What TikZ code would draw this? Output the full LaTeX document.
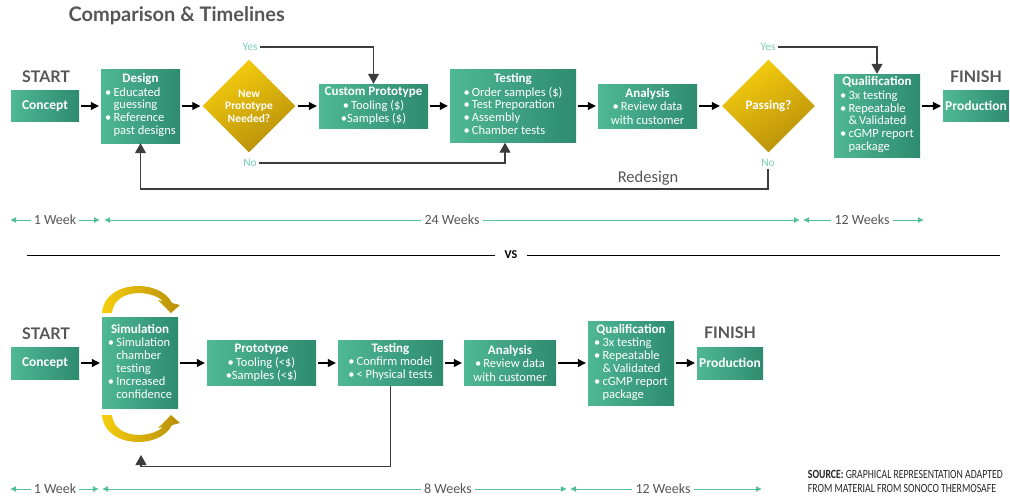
\documentclass[tikz,border=0pt]{standalone}
\usepackage{fontspec}
\setmainfont{Carlito}
\newfontfamily\headfont{Lato}
\usetikzlibrary{arrows.meta,positioning,shapes.geometric,calc}
\definecolor{tealL}{HTML}{4FB894}
\definecolor{tealD}{HTML}{2E8B6F}
\definecolor{goldL}{HTML}{F6CE0E}
\definecolor{goldD}{HTML}{B88F0A}
\definecolor{inkGray}{HTML}{565656}
\definecolor{lineGray}{HTML}{3C3C3C}
\definecolor{ansTeal}{HTML}{7CCDB6}
\definecolor{spanTeal}{HTML}{55BF9B}
\newcommand{\bul}{\textbullet\,}
\newcommand{\hang}{\phantom{\textbullet\,}}
\newcommand{\boxhead}[1]{{\fontsize{13}{13}\selectfont\bfseries #1}}
\newcommand{\bulrows}[1]{{\renewcommand{\arraystretch}{0.95}\begin{tabular}[t]{@{}l@{}}#1\end{tabular}}}

\begin{document}
\begin{tikzpicture}[x=1pt,y=-1pt,
  stage/.style={left color=tealL, right color=tealD, text=white, align=center,
    inner sep=2pt, font=\fontsize{12.5}{13.5}\selectfont},
  tag/.style={stage, font=\bfseries\fontsize{13.5}{14}\selectfont},
  decide/.style={diamond, aspect=1, inner sep=0pt, top color=goldL, bottom color=goldD,
    shading angle=30, text=white, align=center, font=\bfseries\fontsize{11.5}{12.5}\selectfont},
  flow/.style={-{Triangle[length=8pt,width=8pt]}, line width=1.1pt, black,
    shorten <=2pt, shorten >=2pt},
  loopback/.style={-{Triangle[length=10pt,width=11pt]}, line width=1.1pt, lineGray},
  answer/.style={text=ansTeal, font=\fontsize{11.5}{12}\selectfont, inner sep=2pt},
  endpoint/.style={text=inkGray, font=\headfont\bfseries\fontsize{16}{17}\selectfont},
  weeks/.style={text=inkGray, font=\fontsize{14}{15}\selectfont, inner sep=3pt},
  spanline/.style={-{Latex[length=6pt,width=6pt]}, spanTeal, line width=0.9pt},
  swirl/.pic={
    \shade[left color=goldL, right color=goldD]
      (-38,-50) .. controls (-36,-83) and (20,-85) .. (32,-60) -- (40,-58)
      -- (31,-50) -- (18,-63) -- (23,-62)
      .. controls (10,-74) and (-26,-74) .. (-28,-50) -- cycle;
  }]
\useasboundingbox (0,0) rectangle (1010,496);

\node[anchor=west, text=inkGray, font=\headfont\bfseries\fontsize{20}{22}\selectfont] (title) at (65,16) {Comparison \& Timelines};

% upper flow
\node[endpoint] (start1) at (46,77) {START};
\node[tag, minimum width=68pt, minimum height=31pt] (concept1) at (45,106) {Concept};
\node[stage, minimum width=79pt, minimum height=74pt] (design) at (140.5,106)
  {\boxhead{Design}\\\bulrows{\bul Educated\\\hang guessing\\\bul Reference\\\hang past designs}};
\node[decide, minimum width=93pt, minimum height=93pt] (newproto) at (249,106) {New\\Prototype\\Needed?};
\node[stage, minimum width=109pt, minimum height=44pt] (custom) at (373.5,106)
  {\boxhead{Custom Prototype}\\\bul Tooling (\$)\\\textbullet Samples (\$)};
\node[stage, minimum width=126pt, minimum height=73pt] (testing1) at (513,106)
  {\boxhead{Testing}\\\bulrows{\bul Order samples (\$)\\\bul Test Preporation\\\bul Assembly\\\bul Chamber tests}};
\node[stage, minimum width=99pt, minimum height=44pt] (analysis1) at (647.5,106)
  {\boxhead{Analysis}\\\bul Review data\\with customer};
\node[decide, minimum width=93pt, minimum height=93pt, font=\bfseries\fontsize{13}{14}\selectfont] (passing) at (768.5,106) {Passing?};
\node[stage, minimum width=86pt, minimum height=83pt] (qual1) at (877,115.5)
  {\boxhead{Qualification}\\\bulrows{\bul 3x testing\\\bul Repeatable\\\hang\&\,Validated\\\bul cGMP report\\\hang package}};
\node[tag, minimum width=64pt, minimum height=31pt] (prod1) at (976,106) {Production};
\node[endpoint] (fin1) at (976,77) {FINISH};

\draw[flow] (concept1) -- (design);
\draw[flow] (design) -- (newproto);
\draw[flow] (newproto) -- (custom);
\draw[flow] (custom) -- (testing1);
\draw[flow] (testing1) -- (analysis1);
\draw[flow] (analysis1) -- (passing);
\draw[flow] (qual1.east |- prod1) -- (prod1);

\node[answer] (yes1) at (250,47) {Yes};
\node[answer] (no1) at (250,163) {No};
\node[answer] (yes2) at (768,47) {Yes};
\node[answer] (no2) at (768,163) {No};
\draw[loopback] (yes1.east) -| (custom.north);
\draw[loopback] (no1.east) -| ($(testing1.south)+(-8,0)$);
\draw[loopback] (yes2.east) -| (qual1.north);
\coordinate (redesignturn) at (768,189);
\draw[loopback] (no2.south) -- (redesignturn) -| (design.south);
\node[text=inkGray, font=\fontsize{16.5}{18}\selectfont] (redesign) at (648,178) {Redesign};

% lower flow
\node[endpoint] (start2) at (46,334) {START};
\node[tag, minimum width=68pt, minimum height=32pt] (concept2) at (45,363) {Concept};
\node[stage, minimum width=76pt, minimum height=91pt] (sim) at (140,363)
  {\boxhead{Simulation}\\\bulrows{\bul Simulation\\\hang chamber\\\hang testing\\\bul Increased\\\hang confidence}};
\node[stage, minimum width=109pt, minimum height=45pt] (proto) at (261.5,363)
  {\boxhead{Prototype}\\\bul Tooling (<\$)\\\textbullet Samples (<\$)};
\node[stage, minimum width=105pt, minimum height=45pt] (testing2) at (390.5,363)
  {\boxhead{Testing}\\\bulrows{\bul Confirm model\\\bul < Physical tests}};
\node[stage, minimum width=92pt, minimum height=45pt] (analysis2) at (510,363)
  {\boxhead{Analysis}\\\bul Review data\\with customer};
\node[stage, minimum width=86pt, minimum height=84pt] (qual2) at (631,363)
  {\boxhead{Qualification}\\\bulrows{\bul 3x testing\\\bul Repeatable\\\hang\&\,Validated\\\bul cGMP report\\\hang package}};
\node[tag, minimum width=66pt, minimum height=32pt] (prod2) at (730,363) {Production};
\node[endpoint] (fin2) at (730,333) {FINISH};

\draw[flow] (concept2) -- (sim);
\draw[flow] (sim) -- (proto);
\draw[flow] (proto) -- (testing2);
\draw[flow] (testing2) -- (analysis2);
\draw[flow] (analysis2) -- (qual2);
\draw[flow] (qual2) -- (prod2);

\pic (simtop) at (140,363) {swirl};
\pic[yscale=-1] (simbottom) at (140,365) {swirl};
\coordinate (simreturn) at (141,455);
\draw[loopback] (testing2.south) -- ++(0,81) -| (simreturn);

% timelines
\foreach \nm/\lab/\xa/\xm/\xb/\yy in {wkA/1 Week/10/55/100/220, wkB/24 Weeks/104/452/800/220,
    wkC/12 Weeks/803/862/924/220, wkD/1 Week/10/55/99/489, wkE/8 Weeks/102/448/567/489,
    wkF/12 Weeks/570/663/762/489} {
  \coordinate (\nm-l) at (\xa,\yy);
  \coordinate (\nm-r) at (\xb,\yy);
  \node[weeks] (\nm) at (\xm,\yy) {\lab};
  \draw[spanline] (\nm) -- (\nm-l);
  \draw[spanline] (\nm) -- (\nm-r);
}

% versus rule
\node[font=\bfseries\fontsize{12}{12}\selectfont, inner sep=9pt] (vs) at (511,255) {VS};
\coordinate (vsleft) at (27,255);
\coordinate (vsright) at (1000,255);
\draw[line width=1pt] (vsleft) -- (vs);
\draw[line width=1pt] (vs) -- (vsright);

\node[anchor=east, inner sep=0pt, text=black!85] (source) at (1003,483)
  {\scalebox{0.78}[1]{\fontsize{12.5}{13.5}\selectfont\begin{tabular}{@{}l@{}}\textbf{SOURCE:} GRAPHICAL REPRESENTATION ADAPTED\\FROM MATERIAL FROM SONOCO THERMOSAFE\end{tabular}}};
\end{tikzpicture}
\end{document}
